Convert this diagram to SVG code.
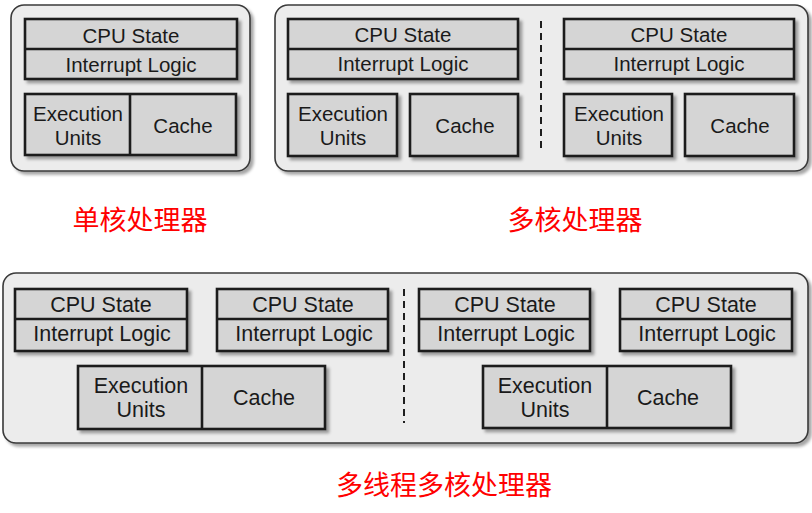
<svg xmlns="http://www.w3.org/2000/svg" width="812" height="513" viewBox="0 0 812 513">
<defs>
<filter id="sh" x="-10%" y="-10%" width="130%" height="140%">
<feDropShadow dx="3" dy="3" stdDeviation="1.5" flood-color="#000" flood-opacity="0.35"/>
</filter>
</defs>
<style>
.outer{fill:#ececec;stroke:#3a3a3a;stroke-width:1.6}
.box{fill:#d5d5d5;stroke:#1e1e1e;stroke-width:2.6}
.ln{stroke:#1e1e1e;stroke-width:2.6;fill:none}
.dash{stroke:#1e1e1e;stroke-width:2;stroke-dasharray:7,5;fill:none}
.t{font-family:"Liberation Sans",Arial,sans-serif;font-size:20.5px;fill:#1a1a1a;text-anchor:middle;dominant-baseline:central}
.b{font-size:21.5px}
.cn{font-family:"Noto Sans CJK SC",sans-serif;font-size:27px;fill:#ff0000;text-anchor:middle;dominant-baseline:central}
</style>
<rect width="812" height="513" fill="#ffffff"/>

<g id="single-core">
<rect class="outer" x="11" y="5" width="239" height="166" rx="13" filter="url(#sh)"/>
<g filter="url(#sh)">
<rect class="box" x="25" y="19" width="212" height="60"/>
<line class="ln" x1="25" y1="49" x2="237" y2="49"/>
</g>
<text class="t" x="131" y="35">CPU State</text>
<text class="t" x="131" y="64">Interrupt Logic</text>
<g filter="url(#sh)">
<rect class="box" x="25" y="94" width="211" height="61"/>
<line class="ln" x1="130" y1="94" x2="130" y2="155"/>
</g>
<text class="t" x="78" y="113">Execution</text>
<text class="t" x="78" y="137">Units</text>
<text class="t" x="183" y="125">Cache</text>
</g>

<g id="multi-core">
<rect class="outer" x="275" y="5" width="533" height="166" rx="13" filter="url(#sh)"/>
<g filter="url(#sh)">
<rect class="box" x="288" y="19" width="230" height="60"/>
<line class="ln" x1="288" y1="49" x2="518" y2="49"/>
<rect class="box" x="288" y="94" width="109" height="62"/>
<rect class="box" x="410" y="94" width="108" height="62"/>
<rect class="box" x="564" y="19" width="230" height="60"/>
<line class="ln" x1="564" y1="49" x2="794" y2="49"/>
<rect class="box" x="564" y="94" width="108" height="62"/>
<rect class="box" x="685" y="94" width="109" height="62"/>
</g>
<line class="dash" x1="541" y1="21" x2="541" y2="152"/>
<text class="t" x="403" y="34">CPU State</text>
<text class="t" x="403" y="63">Interrupt Logic</text>
<text class="t" x="343" y="113">Execution</text>
<text class="t" x="343" y="137">Units</text>
<text class="t" x="465" y="125">Cache</text>
<text class="t" x="679" y="34">CPU State</text>
<text class="t" x="679" y="63">Interrupt Logic</text>
<text class="t" x="619" y="113">Execution</text>
<text class="t" x="619" y="137">Units</text>
<text class="t" x="740" y="125">Cache</text>
</g>

<g id="multithread-multi-core">
<rect class="outer" x="3" y="273" width="805" height="170" rx="13" filter="url(#sh)"/>
<g filter="url(#sh)">
<rect class="box" x="15" y="289" width="172" height="62"/>
<line class="ln" x1="15" y1="319" x2="187" y2="319"/>
<rect class="box" x="217" y="289" width="171" height="62"/>
<line class="ln" x1="217" y1="319" x2="388" y2="319"/>
<rect class="box" x="78" y="366" width="247" height="63"/>
<line class="ln" x1="202" y1="366" x2="202" y2="429"/>
<rect class="box" x="419" y="289" width="171" height="62"/>
<line class="ln" x1="419" y1="319" x2="590" y2="319"/>
<rect class="box" x="620" y="289" width="172" height="62"/>
<line class="ln" x1="620" y1="319" x2="792" y2="319"/>
<rect class="box" x="483" y="366" width="248" height="62"/>
<line class="ln" x1="607" y1="366" x2="607" y2="428"/>
</g>
<line class="dash" x1="404" y1="289" x2="404" y2="423"/>
<text class="t b" x="101" y="305">CPU State</text>
<text class="t b" x="102" y="334">Interrupt Logic</text>
<text class="t b" x="303" y="305">CPU State</text>
<text class="t b" x="304" y="334">Interrupt Logic</text>
<text class="t b" x="505" y="305">CPU State</text>
<text class="t b" x="506" y="334">Interrupt Logic</text>
<text class="t b" x="706" y="305">CPU State</text>
<text class="t b" x="707" y="334">Interrupt Logic</text>
<text class="t b" x="141" y="386">Execution</text>
<text class="t b" x="141" y="410">Units</text>
<text class="t b" x="264" y="398">Cache</text>
<text class="t b" x="545" y="386">Execution</text>
<text class="t b" x="545" y="410">Units</text>
<text class="t b" x="668" y="398">Cache</text>
</g>

<g id="labels">
<text class="cn" x="140" y="218">单核处理器</text>
<text class="cn" x="575" y="218">多核处理器</text>
<text class="cn" x="444" y="483">多线程多核处理器</text>
</g>
</svg>
